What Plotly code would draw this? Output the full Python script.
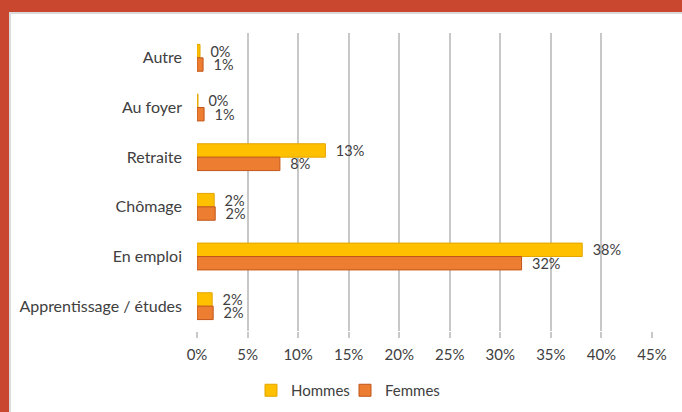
import plotly.graph_objects as go

categories = ["Autre", "Au foyer", "Retraite", "Chômage", "En emploi", "Apprentissage / études"]
hommes = [0.003, 0.001, 0.127, 0.017, 0.381, 0.015]
femmes = [0.006, 0.007, 0.082, 0.018, 0.321, 0.016]
x_ticks = [0, 0.05, 0.10, 0.15, 0.20, 0.25, 0.30, 0.35, 0.40, 0.45]
x_tick_labels = ["0%", "5%", "10%", "15%", "20%", "25%", "30%", "35%", "40%", "45%"]

W, H = 682, 412
ML, MR, MT, MB = 197, 30, 33, 81
FONT = "Lato, 'Open Sans', sans-serif"
TXT = "#404040"
FS = 15
LFS = 14.5
PAD = "\u00a0\u00a0"

fig = go.Figure()
fig.add_trace(go.Bar(
    y=categories, x=hommes, name="Hommes", orientation="h", legend="legend",
    marker=dict(color="#FFC000", line=dict(color="#E3A500", width=1)),
    text=hommes, texttemplate=PAD + "%{x:.0%}", textposition="outside",
    constraintext="none",
    textfont=dict(size=LFS, color=TXT, family=FONT), cliponaxis=False,
))
fig.add_trace(go.Bar(
    y=categories, x=femmes, name="Femmes", orientation="h", legend="legend2",
    marker=dict(color="#ED7D31", line=dict(color="#C0561A", width=1)),
    text=femmes, texttemplate=PAD + "%{x:.0%}", textposition="outside",
    constraintext="none",
    textfont=dict(size=LFS, color=TXT, family=FONT), cliponaxis=False,
))

pw = W - ML - MR
ph = H - MT - MB
def px(x):
    return (x - ML) / pw
def py(y):
    return 1 - (y - MT) / ph

shapes = [
    dict(type="rect", xref="paper", yref="paper", x0=px(0), x1=px(W), y0=py(0), y1=py(12),
         fillcolor="#C9472F", line=dict(width=0), layer="below"),
    dict(type="rect", xref="paper", yref="paper", x0=px(0), x1=px(9), y0=py(0), y1=py(H),
         fillcolor="#C9472F", line=dict(width=0), layer="below"),
    dict(type="rect", xref="paper", yref="paper", x0=px(9), x1=px(W), y0=py(12), y1=py(14),
         fillcolor="#DADADA", line=dict(width=0), layer="below"),
    dict(type="rect", xref="paper", yref="paper", x0=px(9), x1=px(11), y0=py(12), y1=py(H),
         fillcolor="#DADADA", line=dict(width=0), layer="below"),
]

legend_common = dict(orientation="h", xref="container", yref="container",
                     xanchor="left", yanchor="top", y=1 - 374 / H,
                     bgcolor="rgba(0,0,0,0)",
                     font=dict(size=FS, color=TXT, family=FONT), itemwidth=30)

fig.update_layout(
    template="none",
    width=W, height=H,
    margin=dict(l=ML, r=MR, t=MT, b=MB, pad=0, autoexpand=False),
    paper_bgcolor="white", plot_bgcolor="white",
    barmode="group", bargap=0.46, bargroupgap=0,
    font=dict(family=FONT, size=FS, color=TXT),
    showlegend=True,
    legend=dict(x=251 / W, **legend_common),
    legend2=dict(x=345 / W, **legend_common),
    shapes=shapes,
    xaxis=dict(range=[0, 0.45], tickvals=x_ticks, ticktext=x_tick_labels,
               showgrid=True, gridcolor="#C8C8C8", gridwidth=1.5,
               ticks="outside", ticklen=6, tickcolor="#C8C8C8", tickwidth=1.5,
               ticklabelstandoff=4, automargin=False,
               zeroline=False, showline=False, fixedrange=True),
    yaxis=dict(autorange="reversed", showgrid=False, zeroline=False,
               showline=False, ticks="", ticklabelstandoff=14, automargin=False,
               tickfont=dict(size=16, color=TXT, family=FONT)),
)

fig.write_html("out.html", config={"displayModeBar": False},
               post_script="document.body.style.margin='0';document.body.style.overflow='hidden';")
